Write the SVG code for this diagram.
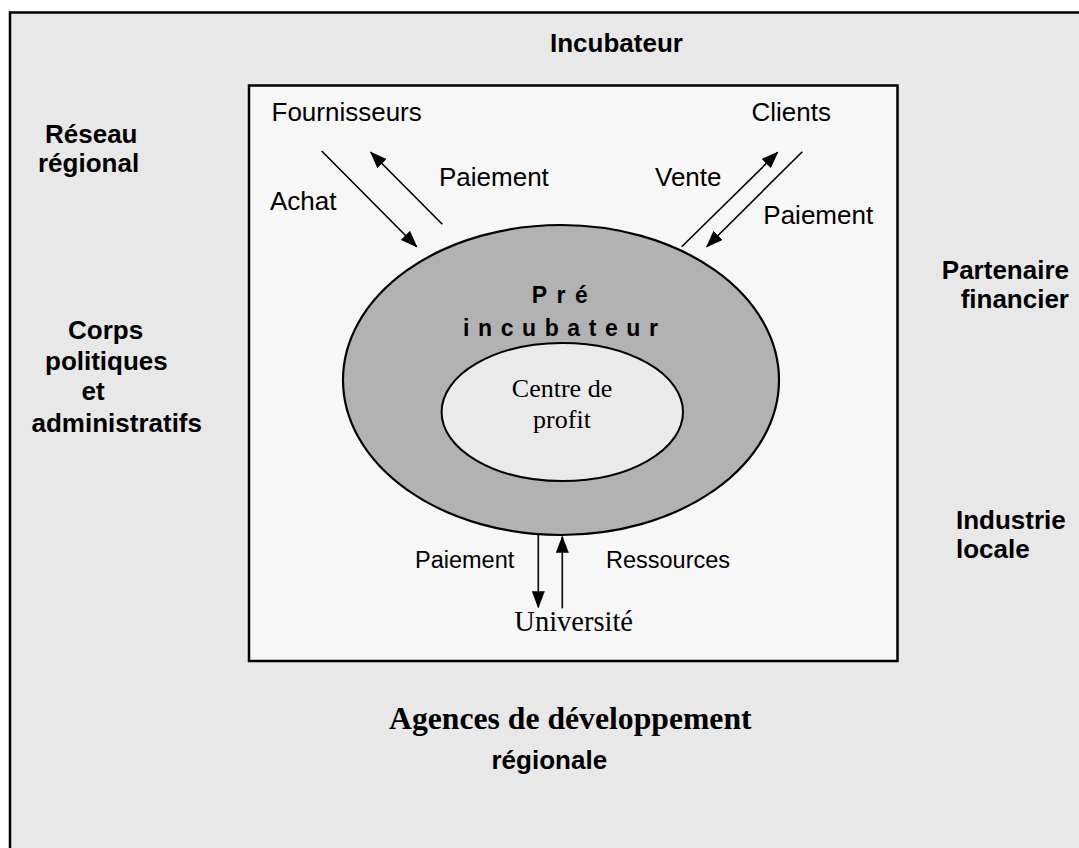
<svg xmlns="http://www.w3.org/2000/svg" width="1079" height="848" viewBox="0 0 1079 848">
<defs>
<style>
.sans{font-family:"Liberation Sans",Arial,sans-serif;fill:#000}
.serif{font-family:"Liberation Serif","Times New Roman",serif;fill:#000}
.ext{font-family:"Liberation Sans",Arial,sans-serif;font-weight:bold;font-size:26px;fill:#000}
.lbl{font-size:26px}
.lbl2{font-size:23.5px}
.flow{stroke:#000;stroke-width:1.6;fill:none;marker-end:url(#ah)}
</style>
<marker id="ah" viewBox="0 0 17 13" refX="16" refY="6.5" markerWidth="17" markerHeight="13" markerUnits="userSpaceOnUse" orient="auto">
<path d="M0,0 L17,6.5 L0,13 z" fill="#000"/>
</marker>
</defs>

<g id="environment">
<rect x="10" y="12.5" width="1100" height="900" fill="#e8e8e8" stroke="#000" stroke-width="2.5"/>
<text class="ext" x="550" y="52">Incubateur</text>
<text class="ext" x="45" y="143.3">Réseau</text>
<text class="ext" x="38" y="171.7">régional</text>
<text class="ext" x="68" y="339">Corps</text>
<text class="ext" x="45" y="370">politiques</text>
<text class="ext" x="81.5" y="400">et</text>
<text class="ext" x="31.5" y="431.5">administratifs</text>
<text class="ext" x="1069" y="279.3" text-anchor="end">Partenaire</text>
<text class="ext" x="1069" y="308.3" text-anchor="end">financier</text>
<text class="ext" x="956" y="529.3">Industrie</text>
<text class="ext" x="956" y="558.3">locale</text>
<text class="serif" x="389" y="729" font-size="31.7" font-weight="bold">Agences de développement</text>
<text class="ext" x="491.5" y="768.5">régionale</text>
</g>

<g id="incubateur">
<rect x="249" y="85.5" width="648.5" height="575.5" fill="#f7f7f7" stroke="#000" stroke-width="2.5"/>
</g>

<g id="fournisseurs">
<text class="sans lbl" x="271.5" y="120.7">Fournisseurs</text>
</g>
<g id="clients">
<text class="sans lbl" x="751.5" y="120.7">Clients</text>
</g>
<g id="universite">
<text class="serif" x="514.3" y="630.7" font-size="28.5">Université</text>
</g>

<g id="pre-incubateur">
<ellipse cx="561" cy="380" rx="218" ry="155" fill="#b2b2b2" stroke="#000" stroke-width="2.2"/>
<text class="sans" x="531.7" y="303.3" font-size="23" font-weight="bold" letter-spacing="9.5">Pré</text>
<text class="sans" x="463" y="336" font-size="23" font-weight="bold" letter-spacing="8.6">incubateur</text>
</g>

<g id="centre-de-profit">
<ellipse cx="562.3" cy="412" rx="120.7" ry="69" fill="#eaeaea" stroke="#000" stroke-width="2"/>
<text class="serif" x="562" y="397" font-size="26" text-anchor="middle">Centre de</text>
<text class="serif" x="562" y="428.3" font-size="26" text-anchor="middle">profit</text>
</g>

<g id="connectors">
<line class="flow" x1="321.7" y1="151" x2="416.7" y2="246.7"/>
<line class="flow" x1="442.3" y1="224.3" x2="370.7" y2="152.3"/>
<line class="flow" x1="681.7" y1="246.7" x2="777.7" y2="152.3"/>
<line class="flow" x1="802.3" y1="151.7" x2="706.7" y2="246.7"/>
<line class="flow" x1="538.3" y1="535" x2="538.3" y2="607.3"/>
<line class="flow" x1="562.3" y1="608.3" x2="562.3" y2="536.7"/>
<text class="sans lbl" x="270" y="210">Achat</text>
<text class="sans lbl" x="439" y="185.5">Paiement</text>
<text class="sans lbl" x="655" y="185.7">Vente</text>
<text class="sans lbl" x="763.3" y="224.3">Paiement</text>
<text class="sans lbl2" x="415" y="567.7">Paiement</text>
<text class="sans lbl2" x="606" y="567.7">Ressources</text>
</g>
</svg>
